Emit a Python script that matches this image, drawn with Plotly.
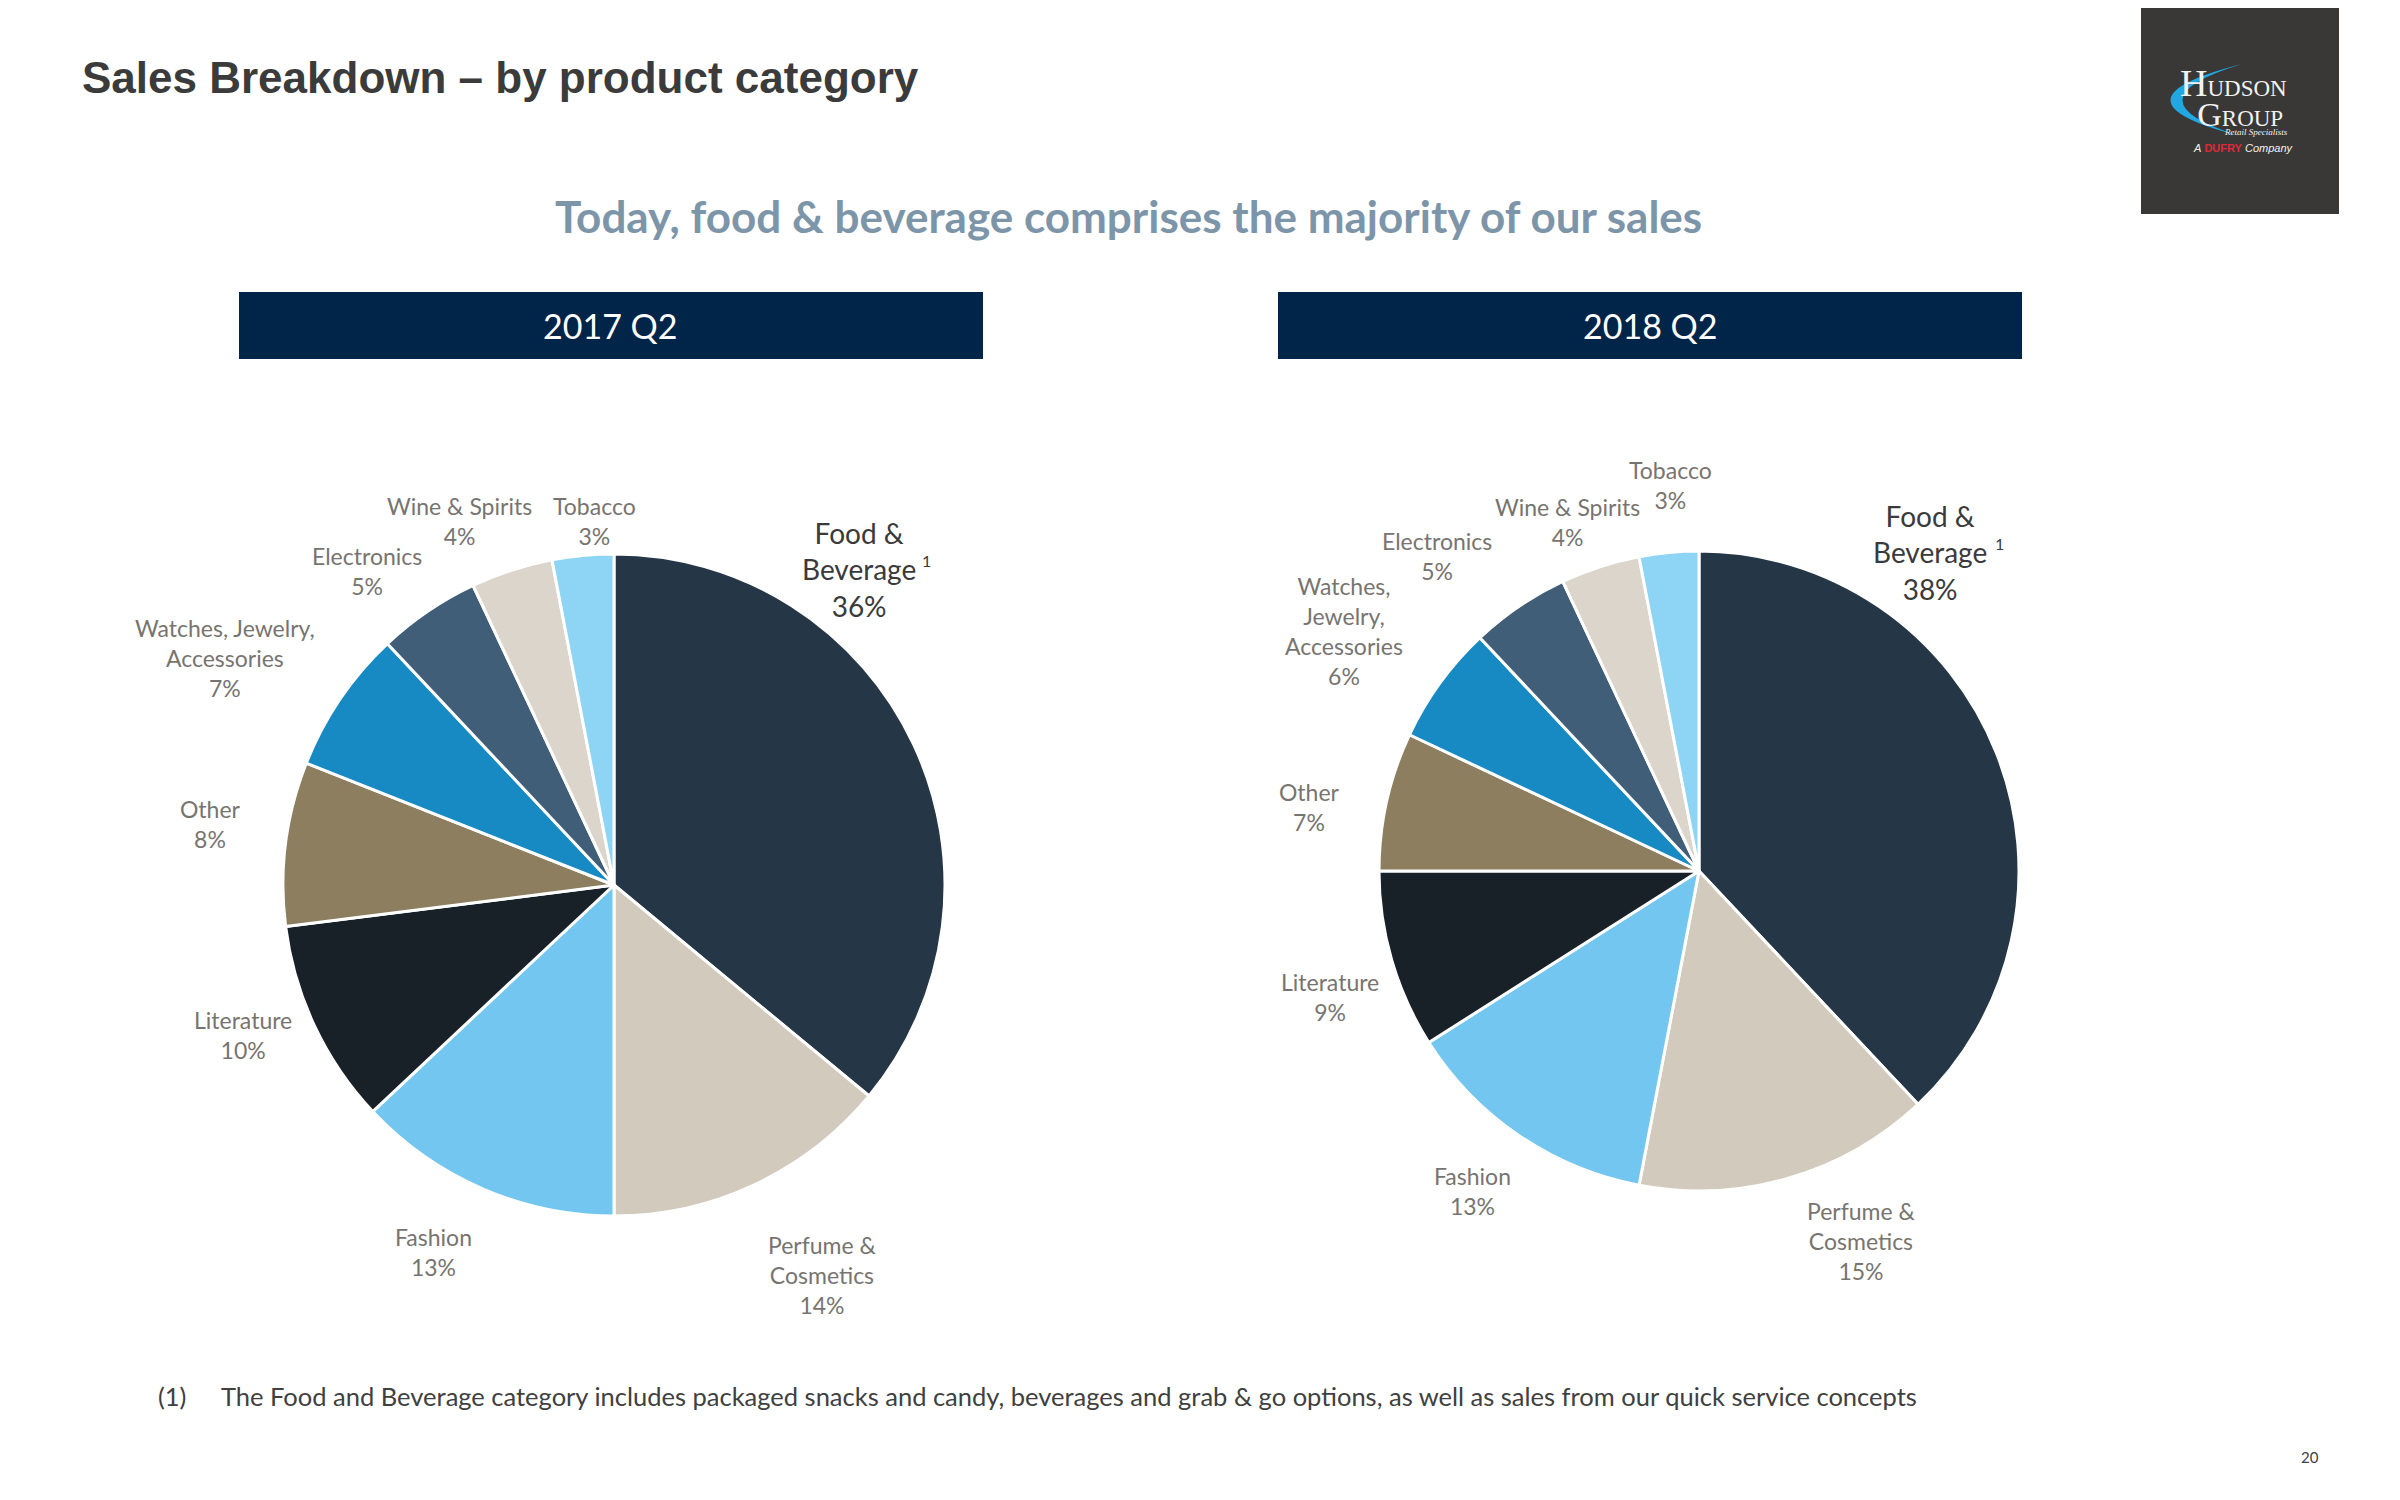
import plotly.graph_objects as go

# ---------------- data ----------------
categories = ["Food & Beverage", "Perfume & Cosmetics", "Fashion", "Literature", "Other",
              "Watches, Jewelry, Accessories", "Electronics", "Wine & Spirits", "Tobacco"]
values_2017 = [36, 14, 13, 10, 8, 7, 5, 4, 3]
values_2018 = [38, 15, 13, 9, 7, 6, 5, 4, 3]
period_labels = ["2017 Q2", "2018 Q2"]

# wrapped label text per chart (layout of the text only)
wrap_2017 = ["Food &<br>Beverage", "Perfume &<br>Cosmetics", "Fashion", "Literature", "Other",
             "Watches, Jewelry,<br>Accessories", "Electronics", "Wine & Spirits", "Tobacco"]
wrap_2018 = ["Food &<br>Beverage", "Perfume &<br>Cosmetics", "Fashion", "Literature", "Other",
             "Watches,<br>Jewelry,<br>Accessories", "Electronics", "Wine & Spirits", "Tobacco"]

colors = ["#253746", "#d2cbbd", "#73c6ef", "#182028", "#8c7e5e",
          "#1789c3", "#415e79", "#dbd5cb", "#8ed4f4"]

# label block centres in pixels (layout)
pos_2017 = [(859, 569), (822, 1275), (433, 1252), (243, 1035), (210, 824),
            (225, 658), (367, 571), (459, 521), (594, 521)]
pos_2018 = [(1930, 552), (1861, 1241), (1472, 1191), (1330, 997), (1309, 807),
            (1344, 631), (1437, 556), (1567, 522), (1670, 485)]

W, H = 2400, 1500
OFF = 8  # page body margin offset


def X(x):
    return (x - OFF) / W


def Y(y):
    return 1 - (y - OFF) / H


fig = go.Figure()

# pies: (centre x, centre y, radius) in pixels
pies = [(614, 885, 331, values_2017), (1699, 871, 320, values_2018)]
for cx, cy, r, vals in pies:
    fig.add_trace(go.Pie(
        labels=categories, values=vals, sort=False, direction="clockwise", rotation=0,
        marker=dict(colors=colors, line=dict(color="white", width=3)),
        textinfo="none", hoverinfo="label+percent",
        domain=dict(x=[X(cx - r), X(cx + r)], y=[Y(cy + r), Y(cy - r)]),
    ))

annotations = []
shapes = []

LABEL_FONT = "Lato, 'Open Sans', sans-serif"

for wraps, vals, pos, sup in [(wrap_2017, values_2017, pos_2017, (926, 560)),
                              (wrap_2018, values_2018, pos_2018, (1999, 543))]:
    for i, (txt, v, (x, y)) in enumerate(zip(wraps, vals, pos)):
        big = (i == 0)
        annotations.append(dict(
            x=X(x), y=Y(y), xref="paper", yref="paper", showarrow=False,
            text=f"{txt}<br>{v}%", align="center", xanchor="center", yanchor="middle",
            font=dict(family=LABEL_FONT, size=28 if big else 23,
                      color="#3a3a3a" if big else "#777470"),
        ))
    annotations.append(dict(
        x=X(sup[0]), y=Y(sup[1]), xref="paper", yref="paper", showarrow=False,
        text="1", xanchor="center", yanchor="middle",
        font=dict(family=LABEL_FONT, size=16, color="#3a3a3a"),
    ))

# header bars
for (x0, x1), lab in zip([(239, 983), (1278, 2022)], period_labels):
    shapes.append(dict(type="rect", xref="paper", yref="paper",
                       x0=X(x0), x1=X(x1), y0=Y(359), y1=Y(292),
                       fillcolor="#012449", line=dict(width=0), layer="below"))
    annotations.append(dict(
        x=X((x0 + x1) / 2), y=Y(326), xref="paper", yref="paper", showarrow=False,
        text=lab, xanchor="center", yanchor="middle",
        font=dict(family=LABEL_FONT, size=34, color="white"),
    ))

# titles
annotations.append(dict(
    x=X(80), y=Y(77), xref="paper", yref="paper", showarrow=False,
    text="<b>Sales Breakdown – by product category</b>", xanchor="left", yanchor="middle",
    font=dict(family="'Liberation Sans', Arial, sans-serif", size=44, color="#3b3b3b"),
))
annotations.append(dict(
    x=X(1128), y=Y(216), xref="paper", yref="paper", showarrow=False,
    text="<b>Today, food & beverage comprises the majority of our sales</b>",
    xanchor="center", yanchor="middle",
    font=dict(family=LABEL_FONT, size=44, color="#7d95a8"),
))

# footnote and page number
annotations.append(dict(
    x=X(156), y=Y(1396), xref="paper", yref="paper", showarrow=False,
    text="(1)", xanchor="left", yanchor="middle",
    font=dict(family=LABEL_FONT, size=25.5, color="#404040"),
))
annotations.append(dict(
    x=X(219), y=Y(1396), xref="paper", yref="paper", showarrow=False,
    text="The Food and Beverage category includes packaged snacks and candy, beverages and grab & go options, as well as sales from our quick service concepts",
    xanchor="left", yanchor="middle",
    font=dict(family=LABEL_FONT, size=25.5, color="#404040"),
))
annotations.append(dict(
    x=X(2310), y=Y(1457), xref="paper", yref="paper", showarrow=False,
    text="20", xanchor="center", yanchor="middle",
    font=dict(family=LABEL_FONT, size=15, color="#404040"),
))

# logo block
shapes.append(dict(type="rect", xref="paper", yref="paper",
                   x0=X(2141), x1=X(2339), y0=Y(214), y1=Y(0),
                   fillcolor="#3a3836", line=dict(width=0), layer="below"))


def P(x, y):
    return f"{X(x):.5f},{Y(y):.5f}"


crescent = (f"M {P(2242, 64)} Q {P(2100, 100)} {P(2240, 136)} "
            f"Q {P(2124, 100)} {P(2242, 64)} Z")
shapes.append(dict(type="path", xref="paper", yref="paper", path=crescent,
                   fillcolor="#1fa8e1", line=dict(width=0)))

SERIF = "'Liberation Serif', 'DejaVu Serif', serif"
annotations.append(dict(
    x=X(2178), y=Y(97), xref="paper", yref="paper", showarrow=False,
    text=("<span style='font-size:38px'>H</span>UDSON<br>"
          "\u00a0\u00a0\u00a0<span style='font-size:34px'>G</span>ROUP"),
    align="left", xanchor="left", yanchor="middle",
    font=dict(family=SERIF, size=23, color="#f2f2f2"),
))
annotations.append(dict(
    x=X(2290), y=Y(125), xref="paper", yref="paper", showarrow=False,
    text="<i>Retail Specialists</i>", xanchor="right", yanchor="top",
    font=dict(family=SERIF, size=9, color="#f2f2f2"),
))
annotations.append(dict(
    x=X(2243), y=Y(148), xref="paper", yref="paper", showarrow=False,
    text="<i>A</i> <span style='color:#e0283c'><b>DUFRY</b></span> <i>Company</i>",
    xanchor="center", yanchor="middle",
    font=dict(family="'Liberation Sans', sans-serif", size=11, color="#f2f2f2"),
))

fig.update_layout(
    width=W, height=H, autosize=False,
    margin=dict(l=0, r=0, t=0, b=0),
    paper_bgcolor="white", plot_bgcolor="white",
    showlegend=False,
    annotations=annotations, shapes=shapes,
)

fig.write_html("out.html")
